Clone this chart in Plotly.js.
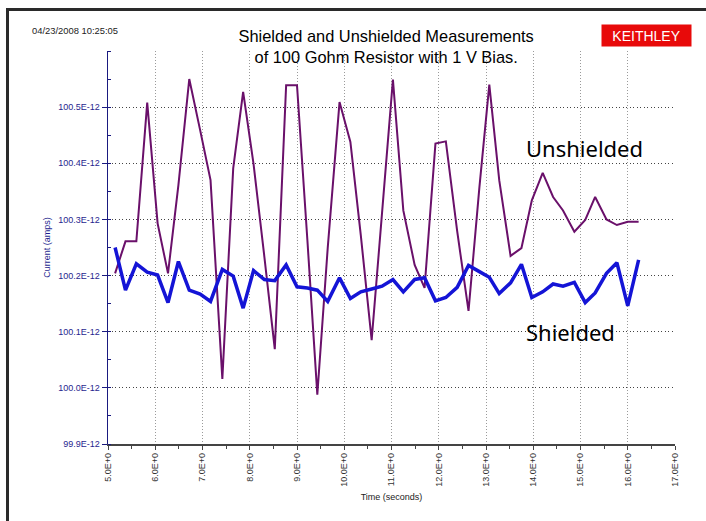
<!DOCTYPE html>
<html>
<head>
<meta charset="utf-8">
<script src="https://cdn.plot.ly/plotly-3.0.1.min.js"></script>
<style>
  html, body { margin: 0; padding: 0; background: #fff; }
  #wrap { position: relative; width: 706px; height: 521px; overflow: hidden; }
  #chart { position: absolute; left: 0; top: 0; width: 706px; height: 521px; }
  #frameTop { position: absolute; left: 6px; top: 8px; width: 700px; height: 3px; background: #2a2a2a; }
  #frameLeft { position: absolute; left: 6px; top: 8px; width: 3px; height: 513px; background: #2a2a2a; }
</style>
</head>
<body>
<div id="wrap">
  <div id="chart"></div>
  <div id="frameTop"></div>
  <div id="frameLeft"></div>
</div>
<script>
// Time (seconds)
const timeSec = [5.15, 5.37, 5.60, 5.83, 6.05, 6.27, 6.49, 6.72, 6.95, 7.17,
                 7.42, 7.65, 7.86, 8.08, 8.31, 8.53, 8.77, 9.00, 9.22, 9.43,
                 9.65, 9.90, 10.13, 10.35, 10.58, 10.80, 11.03, 11.25, 11.49, 11.70,
                 11.93, 12.15, 12.39, 12.63, 12.86, 13.07, 13.28, 13.52, 13.75, 13.97,
                 14.20, 14.42, 14.63, 14.87, 15.10, 15.31, 15.55, 15.77, 16.00, 16.23];

// Current in units of 1E-12 A
const unshielded = [100.204, 100.261, 100.261, 100.508, 100.293, 100.204, 100.361, 100.550, 100.459, 100.370,
                    100.016, 100.391, 100.527, 100.399, 100.233, 100.069, 100.539, 100.539, 100.263, 99.988,
                    100.249, 100.509, 100.438, 100.272, 100.085, 100.316, 100.549, 100.316, 100.219, 100.178,
                    100.435, 100.439, 100.279, 100.137, 100.357, 100.540, 100.370, 100.235, 100.249, 100.334,
                    100.383, 100.340, 100.316, 100.278, 100.299, 100.340, 100.300, 100.290, 100.296, 100.296];

const shielded = [100.250, 100.174, 100.221, 100.206, 100.201, 100.152, 100.225, 100.174, 100.167, 100.154,
                  100.211, 100.199, 100.142, 100.209, 100.193, 100.191, 100.219, 100.180, 100.178, 100.174,
                  100.154, 100.196, 100.159, 100.171, 100.176, 100.181, 100.193, 100.171, 100.193, 100.196,
                  100.155, 100.161, 100.179, 100.218, 100.207, 100.197, 100.168, 100.187, 100.220, 100.161,
                  100.171, 100.185, 100.181, 100.188, 100.152, 100.169, 100.204, 100.223, 100.146, 100.228];

const yTickVals = [99.9, 100.0, 100.1, 100.2, 100.3, 100.4, 100.5];
const yTickText = ['99.9E-12', '100.0E-12', '100.1E-12', '100.2E-12', '100.3E-12', '100.4E-12', '100.5E-12'];
const xTickVals = [5, 6, 7, 8, 9, 10, 11, 12, 13, 14, 15, 16, 17];
const xTickText = ['5.0E+0', '6.0E+0', '7.0E+0', '8.0E+0', '9.0E+0', '10.0E+0', '11.0E+0',
                   '12.0E+0', '13.0E+0', '14.0E+0', '15.0E+0', '16.0E+0', '17.0E+0'];

const traces = [
  { x: timeSec, y: unshielded, type: 'scatter', mode: 'lines', name: 'Unshielded',
    line: { color: '#6a106a', width: 2 } },
  { x: timeSec, y: shielded, type: 'scatter', mode: 'lines', name: 'Shielded',
    line: { color: '#1414d6', width: 3.5 } }
];

const tickFont = 'Liberation Sans, Arial, sans-serif';

const layout = {
  width: 706, height: 521,
  margin: { l: 107.5, r: 30.7, t: 50.5, b: 76.7 },
  paper_bgcolor: '#ffffff', plot_bgcolor: '#ffffff',
  showlegend: false,
  title: {
    text: 'Shielded and Unshielded Measurements<br>of 100 Gohm Resistor with 1 V Bias.',
    x: 0.547, xanchor: 'center', xref: 'container',
    y: 0.92, yanchor: 'middle', yref: 'container',
    font: { family: tickFont, size: 16.4, color: '#000' }
  },
  xaxis: {
    range: [5, 17],
    tickmode: 'array', tickvals: xTickVals, ticktext: xTickText,
    tickangle: -90,
    tickfont: { family: tickFont, size: 9, color: '#333' },
    ticks: 'outside', ticklen: 4, tickcolor: '#444', tickwidth: 1,
    minor: { dtick: 0.5, tick0: 5, ticks: 'outside', ticklen: 3, tickcolor: '#444', showgrid: false },
    showline: true, linecolor: '#444', linewidth: 1.5,
    showgrid: true, gridcolor: '#9a9a9a', griddash: '1px,2px', gridwidth: 1,
    zeroline: false,
    title: { text: 'Time (seconds)', font: { family: tickFont, size: 9, color: '#222' }, standoff: 8 }
  },
  yaxis: {
    range: [99.9, 100.6],
    tickmode: 'array', tickvals: yTickVals, ticktext: yTickText,
    tickfont: { family: tickFont, size: 9, color: '#1f1f8f' },
    ticks: 'outside', ticklen: 5, tickcolor: '#1a1a80', tickwidth: 1,
    minor: { dtick: 0.05, tick0: 99.9, ticks: 'inside', ticklen: 3, tickcolor: '#1a1a80', showgrid: false },
    showline: true, linecolor: '#1a1a80', linewidth: 1.5,
    showgrid: true, gridcolor: '#444', griddash: '1px,2.5px', gridwidth: 1,
    zeroline: false,
    title: { text: 'Current (amps)', font: { family: tickFont, size: 9, color: '#1f1f8f' }, standoff: 6 }
  },
  annotations: [
    { xref: 'paper', yref: 'paper', x: -0.138, y: 1.052, xanchor: 'left', yanchor: 'middle',
      text: '04/23/2008 10:25:05', showarrow: false,
      font: { family: tickFont, size: 9.4, color: '#222' } },
    { xref: 'paper', yref: 'paper', x: 0.949, y: 1.0406, xanchor: 'center', yanchor: 'middle',
      text: 'KEITHLEY', showarrow: false, bgcolor: '#e80a0a', width: 87, height: 19,
      font: { family: tickFont, size: 14, color: '#ffffff' } },
    { xref: 'paper', yref: 'paper', x: 0.733, y: 0.7524, xanchor: 'left', yanchor: 'middle',
      text: 'Unshielded', showarrow: false,
      font: { family: 'Noto Sans, Open Sans, sans-serif', size: 22, color: '#000' } },
    { xref: 'paper', yref: 'paper', x: 0.733, y: 0.285, xanchor: 'left', yanchor: 'middle',
      text: 'Shielded', showarrow: false,
      font: { family: 'Noto Sans, Open Sans, sans-serif', size: 22, color: '#000' } }
  ]
};

Plotly.newPlot('chart', traces, layout, { displayModeBar: false, staticPlot: true });
</script>
</body>
</html>
